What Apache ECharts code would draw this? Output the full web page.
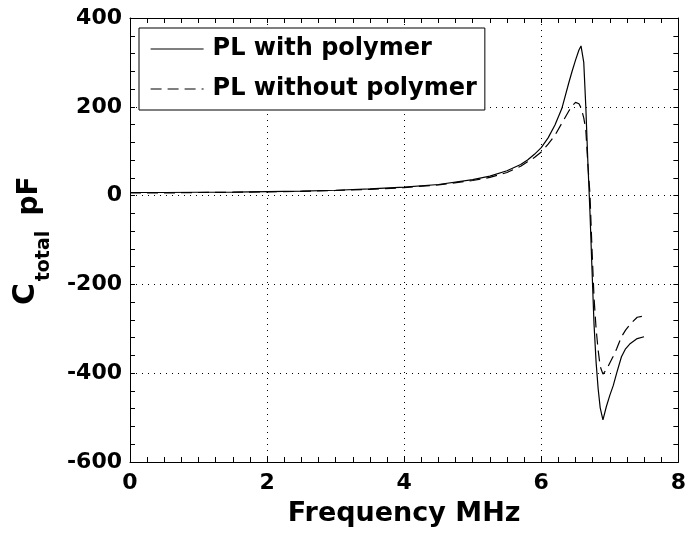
<!DOCTYPE html>
<html>
<head>
<meta charset="utf-8">
<script src="https://cdn.jsdelivr.net/npm/echarts@6/dist/echarts.min.js"></script>
<style>
  html, body { margin: 0; padding: 0; background: #fff; }
  #chart { width: 689px; height: 537px; }
</style>
</head>
<body>
<div id="chart"></div>
<script>
// Frequency samples (MHz) shared by both curves
var freq = [0, 0.5, 1, 1.5, 2, 2.5, 3, 3.5, 4, 4.5, 5, 5.25, 5.5, 5.7, 5.8, 5.9, 6.0, 6.1, 6.2, 6.3, 6.4, 6.45, 6.5, 6.55, 6.58, 6.62, 6.65, 6.68, 6.71, 6.74, 6.77, 6.8, 6.83, 6.86, 6.9, 6.95, 7.0, 7.05, 7.1, 7.17, 7.23, 7.3, 7.4, 7.5];

// Total capacitance (pF), PL with polymer
var capWithPolymer = [7, 7, 7.5, 8, 9, 10, 12, 15, 19, 25, 36, 44, 56, 70, 80, 93, 108, 130, 159, 196, 253, 280, 305, 328, 337, 300, 200, 75, -35, -165, -290, -375, -435, -478, -505, -475, -450, -428, -400, -363, -345, -333, -322, -318];

// Total capacitance (pF), PL without polymer
var capWithoutPolymer = [6, 6, 7, 7.5, 8.5, 9.5, 11.5, 14, 18, 24, 34, 41, 52, 66, 76, 86, 98, 116, 136, 163, 190, 202, 210, 207, 198, 175, 148, 70, 5, -120, -230, -300, -348, -385, -402, -392, -377, -362, -345, -318, -303, -289, -274, -271];

var seriesNames = ['PL with polymer', 'PL without polymer'];
var xTicks = [0, 2, 4, 6, 8];
var yTicks = [-600, -400, -200, 0, 200, 400];

function pairs(xs, ys) {
  return xs.map(function (x, i) { return [x, ys[i]]; });
}

var FONT = 'DejaVu Sans';
var chart = echarts.init(document.getElementById('chart'), null, { renderer: 'canvas' });

var axisCommon = {
  axisLine: { show: true, onZero: false, lineStyle: { color: '#000', width: 1 } },
  axisTick: { show: true, inside: true, length: 5, lineStyle: { color: '#000' } }
};
function minor(n) {
  return { minorTick: { show: true, splitNumber: n, length: 5, lineStyle: { color: '#000' } } };
}

var xMin = xTicks[0], xMax = xTicks[xTicks.length - 1], xStep = xTicks[1] - xTicks[0];
var yMin = yTicks[0], yMax = yTicks[yTicks.length - 1], yStep = yTicks[1] - yTicks[0];

chart.setOption({
  animation: false,
  backgroundColor: '#fff',
  grid: { left: 130, right: 8, top: 18, bottom: 75, containLabel: false },
  legend: {
    orient: 'vertical',
    left: 139,
    top: 28,
    padding: [9, 8, 9, 11],
    itemWidth: 53,
    itemHeight: 24,
    itemGap: 16,
    // only the line sample is shown in each legend entry
    itemStyle: { color: 'rgba(0,0,0,0)', borderWidth: 0, opacity: 0 },
    lineStyle: { width: 1.2 },
    backgroundColor: '#fff',
    borderColor: '#000',
    borderWidth: 1,
    borderRadius: 0,
    textStyle: { fontFamily: FONT, fontWeight: 'bold', fontSize: 24, color: '#000', padding: [0, 0, 0, 4] },
    data: seriesNames
  },
  xAxis: [
    Object.assign({
      type: 'value', min: xMin, max: xMax, interval: xStep, position: 'bottom',
      axisLabel: { fontFamily: FONT, fontWeight: 'bold', fontSize: 22, color: '#000', margin: 10 },
      splitLine: { show: true, lineStyle: { color: '#000', type: [1, 5], width: 1 } },
      name: 'Frequency MHz', nameLocation: 'middle', nameGap: 38,
      nameTextStyle: { fontFamily: FONT, fontWeight: 'bold', fontSize: 27, color: '#000' }
    }, axisCommon, minor(8)),
    Object.assign({
      type: 'value', min: xMin, max: xMax, interval: xStep, position: 'top',
      axisLabel: { show: false }, splitLine: { show: false }
    }, axisCommon, minor(8))
  ],
  yAxis: [
    Object.assign({
      type: 'value', min: yMin, max: yMax, interval: yStep, position: 'left',
      axisLabel: { fontFamily: FONT, fontWeight: 'bold', fontSize: 22, color: '#000', margin: 8 },
      splitLine: { show: true, lineStyle: { color: '#000', type: [1, 5], width: 1 } }
    }, axisCommon, minor(5)),
    Object.assign({
      type: 'value', min: yMin, max: yMax, interval: yStep, position: 'right',
      axisLabel: { show: false }, splitLine: { show: false }
    }, axisCommon, minor(5))
  ],
  series: [
    {
      name: seriesNames[0], type: 'line', xAxisIndex: 0, yAxisIndex: 0,
      data: pairs(freq, capWithPolymer), showSymbol: false, symbol: 'none',
      lineStyle: { color: '#000', width: 1.2, type: 'solid' },
      itemStyle: { color: '#000' }, z: 3
    },
    {
      name: seriesNames[1], type: 'line', xAxisIndex: 0, yAxisIndex: 0,
      data: pairs(freq, capWithoutPolymer), showSymbol: false, symbol: 'none',
      lineStyle: { color: '#000', width: 1.2, type: [11, 6] },
      itemStyle: { color: '#000' }, z: 3
    }
  ],
  graphic: [
    {
      type: 'text', x: 26, y: 294, rotation: Math.PI / 2,
      style: { text: 'C', fontFamily: FONT, fontWeight: 'bold', fontSize: 30, fill: '#000', align: 'center', verticalAlign: 'middle' }
    },
    {
      type: 'text', x: 44, y: 256, rotation: Math.PI / 2,
      style: { text: 'total', fontFamily: FONT, fontWeight: 'bold', fontSize: 19, fill: '#000', align: 'center', verticalAlign: 'middle' }
    },
    {
      type: 'text', x: 30, y: 196, rotation: Math.PI / 2,
      style: { text: 'pF', fontFamily: FONT, fontWeight: 'bold', fontSize: 28, fill: '#000', align: 'center', verticalAlign: 'middle' }
    }
  ]
});
</script>
</body>
</html>
